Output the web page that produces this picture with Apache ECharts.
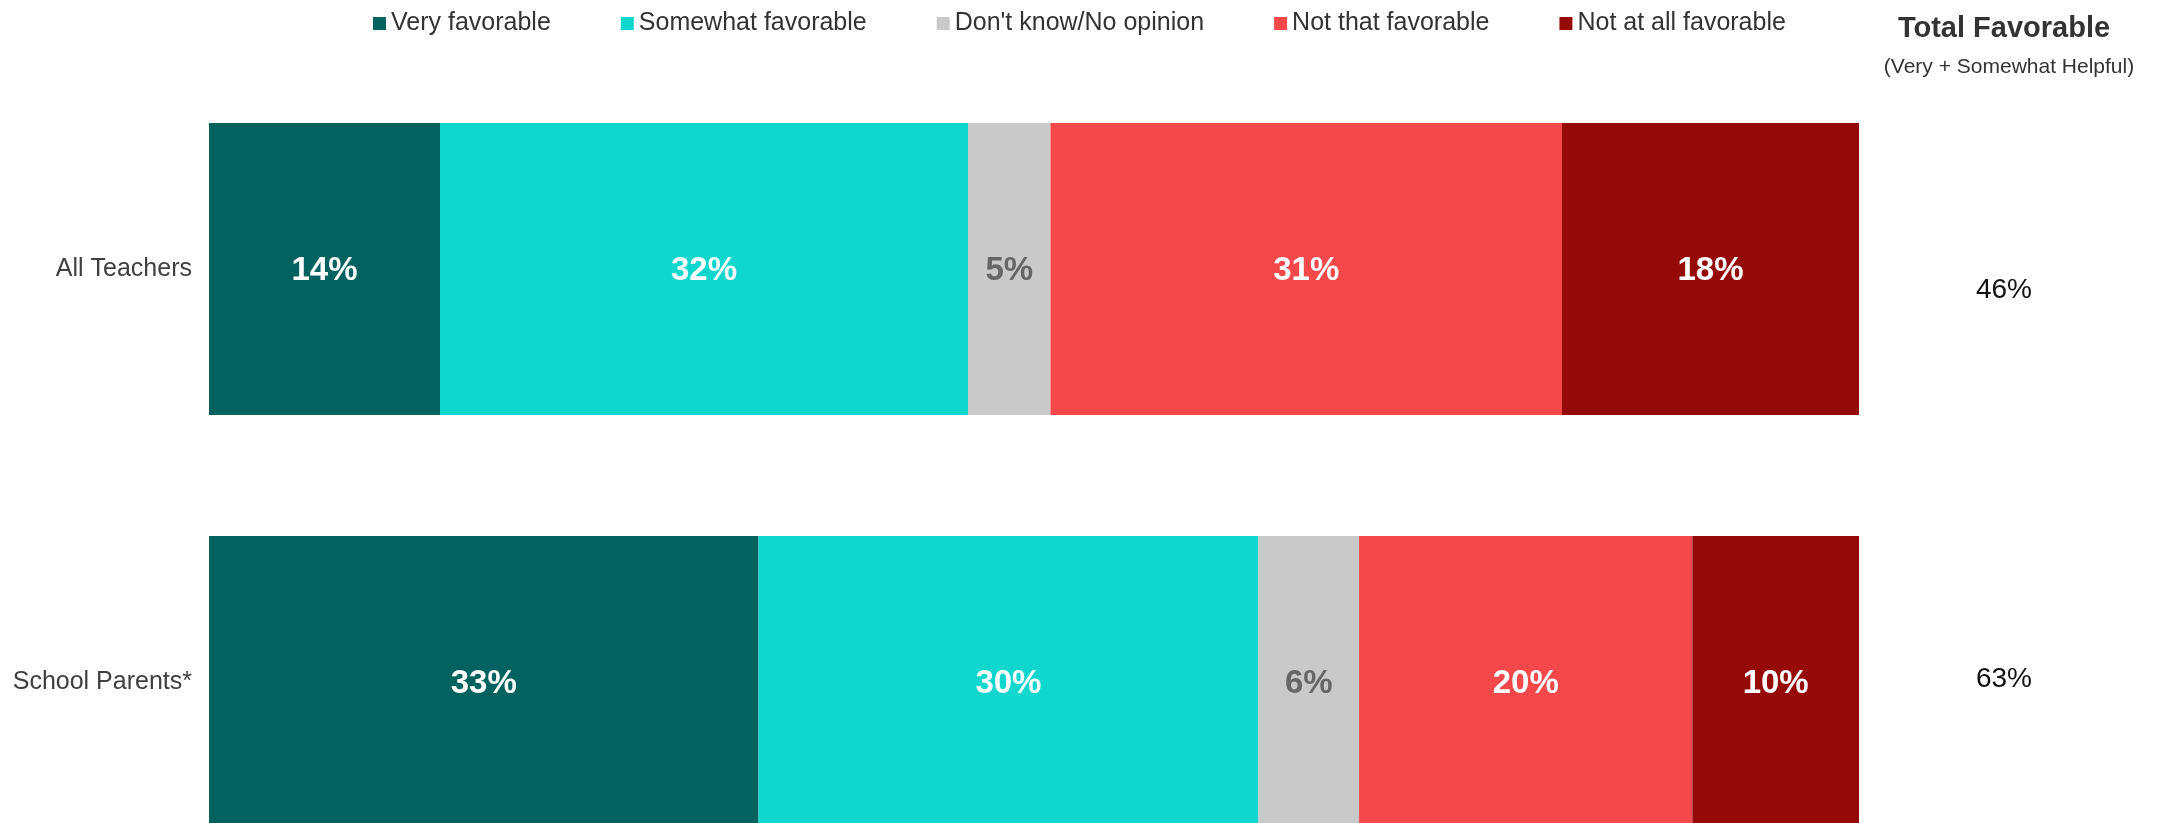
<!DOCTYPE html>
<html><head><meta charset="utf-8">
<script src="https://cdn.jsdelivr.net/npm/echarts@6/dist/echarts.min.js"></script>
<style>html,body{margin:0;padding:0;background:#fff;width:2159px;height:823px;overflow:hidden}#c{width:2159px;height:900px}</style>
</head><body><div id="c"></div>
<script>
// ---- data ----
const categories = ['All Teachers', 'School Parents*'];
const seriesNames = ['Very favorable', 'Somewhat favorable', "Don't know/No opinion", 'Not that favorable', 'Not at all favorable'];
const veryFavorable = [14, 33.3];
const somewhatFavorable = [32, 30.3];
const dontKnow = [5, 6.1];
const notThatFavorable = [31, 20.2];
const notAtAllFavorable = [18, 10.1];
const totalFavorable = [46, 63];
const totalTitle = 'Total Favorable';
const totalSubtitle = '(Very + Somewhat Helpful)';

const FONT = "'Liberation Sans', Arial, Helvetica, sans-serif";
const colors = ['#02625F', '#0FD7CD', '#C9C9C9', '#F5484A', '#950A09'];
const labelColors = ['#ffffff', '#ffffff', '#666666', '#ffffff', '#ffffff'];
const values = [veryFavorable, somewhatFavorable, dontKnow, notThatFavorable, notAtAllFavorable];

const chart = echarts.init(document.getElementById('c'), null, { renderer: 'canvas' });

const series = seriesNames.map((name, i) => ({
  name: name,
  type: 'bar',
  stack: 'total',
  barWidth: 292,
  data: values[i],
  itemStyle: { color: colors[i] },
  label: {
    show: true,
    position: 'inside',
    offset: [0, 2],
    formatter: p => Math.round(p.value) + '%',
    color: labelColors[i],
    fontFamily: FONT,
    fontSize: 33,
    fontWeight: 'bold'
  },
  emphasis: { disabled: true }
}));

chart.setOption({
  animation: false,
  backgroundColor: '#ffffff',
  textStyle: { fontFamily: FONT },
  legend: {
    data: seriesNames,
    left: 373,
    top: 11,
    padding: 0,
    itemWidth: 13,
    itemHeight: 13,
    itemGap: 70,
    icon: 'rect',
    textStyle: { fontFamily: FONT, fontSize: 25, color: '#333333' },
    selectedMode: false
  },
  grid: { left: 209, right: 300, top: 62.5, height: 826, containLabel: false },
  xAxis: { type: 'value', min: 0, max: 100, show: false },
  yAxis: {
    type: 'category',
    data: categories,
    inverse: true,
    axisLine: { show: false },
    axisTick: { show: false },
    splitLine: { show: false },
    axisLabel: { fontFamily: FONT, fontSize: 25, color: '#404040', margin: 17 }
  },
  series: series
});

// right-hand "Total Favorable" column, placed through the library's category scale
const totalX = 2004;
const rowOffsets = [21, -3];
const graphics = [
  { type: 'text', x: totalX, y: 29, style: { text: totalTitle, fontFamily: FONT, fontSize: 29, fontWeight: 'bold', fill: '#333333', align: 'center', verticalAlign: 'middle' } },
  { type: 'text', x: totalX + 5, y: 67, style: { text: totalSubtitle, fontFamily: FONT, fontSize: 21, fill: '#333333', align: 'center', verticalAlign: 'middle' } }
];
categories.forEach((c, i) => {
  const py = chart.convertToPixel({ yAxisIndex: 0 }, c);
  graphics.push({ type: 'text', x: totalX, y: py + rowOffsets[i], style: { text: totalFavorable[i] + '%', fontFamily: FONT, fontSize: 28, fill: '#111111', align: 'center', verticalAlign: 'middle' } });
});
chart.setOption({ graphic: graphics });
</script>
</body></html>
